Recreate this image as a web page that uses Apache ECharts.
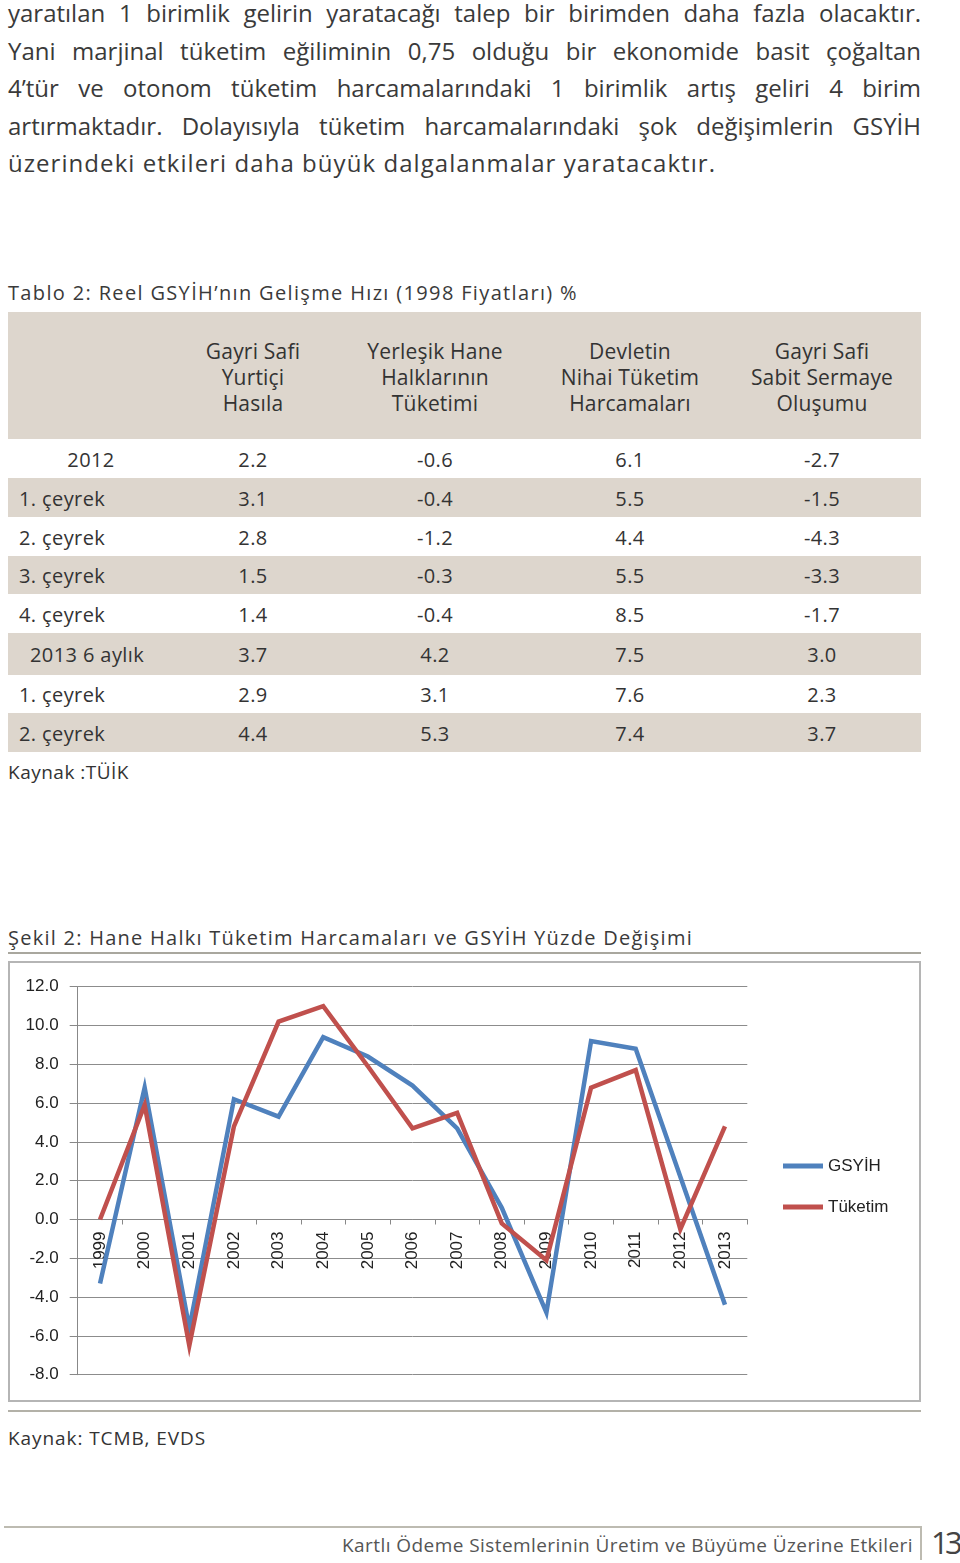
<!DOCTYPE html>
<html><head><meta charset="utf-8">
<script src="https://cdn.jsdelivr.net/npm/echarts@6/dist/echarts.min.js"></script>
<style>
html,body{margin:0;padding:0;background:#fff;}
body{width:960px;height:1563px;position:relative;overflow:hidden;font-family:"Open Sans",sans-serif;color:#333;}
.abs{position:absolute;white-space:nowrap;}
.p{font-size:24px;line-height:30px;color:#3a3a3a;}
.t{font-size:20px;line-height:26px;color:#333;}
.cell{position:absolute;font-size:20px;line-height:26px;color:#333;letter-spacing:0.4px;white-space:nowrap;}
.hline{position:absolute;height:2px;background:#b2b0a8;}
</style></head>
<body>
<div id="page"></div>
<div id="chartbox" style="position:absolute;left:8px;top:961px;width:913px;height:441px;border:2px solid #b5b5b5;box-sizing:border-box;">
  <div id="chart" style="position:absolute;left:0;top:0;width:909px;height:437px;"></div>
</div>
<script>
// ---------- data ----------
const paragraphLines = [
  "yaratılan 1 birimlik gelirin yaratacağı talep bir birimden daha fazla olacaktır.",
  "Yani marjinal tüketim eğiliminin 0,75 olduğu bir ekonomide basit çoğaltan",
  "4’tür ve otonom tüketim harcamalarındaki 1 birimlik artış geliri 4 birim",
  "artırmaktadır. Dolayısıyla tüketim harcamalarındaki şok değişimlerin GSYİH",
  "üzerindeki etkileri daha büyük dalgalanmalar yaratacaktır."
];
const tableTitle = "Tablo 2: Reel GSYİH’nın Gelişme Hızı (1998 Fiyatları) %";
const tableHeaders = [
  ["Gayri Safi", "Yurtiçi", "Hasıla"],
  ["Yerleşik Hane", "Halklarının", "Tüketimi"],
  ["Devletin", "Nihai Tüketim", "Harcamaları"],
  ["Gayri Safi", "Sabit Sermaye", "Oluşumu"]
];
const rowLabels = ["2012", "1. çeyrek", "2. çeyrek", "3. çeyrek", "4. çeyrek", "2013 6 aylık", "1. çeyrek", "2. çeyrek"];
const colGSYH     = ["2.2", "3.1", "2.8", "1.5", "1.4", "3.7", "2.9", "4.4"];
const colHane     = ["-0.6", "-0.4", "-1.2", "-0.3", "-0.4", "4.2", "3.1", "5.3"];
const colDevlet   = ["6.1", "5.5", "4.4", "5.5", "8.5", "7.5", "7.6", "7.4"];
const colSermaye  = ["-2.7", "-1.5", "-4.3", "-3.3", "-1.7", "3.0", "2.3", "3.7"];
const tableSource = "Kaynak :TÜİK";
const figureTitle = "Şekil 2: Hane Halkı Tüketim Harcamaları ve GSYİH Yüzde Değişimi";
const figureSource = "Kaynak: TCMB, EVDS";
const footerText = "Kartlı Ödeme Sistemlerinin Üretim ve Büyüme Üzerine Etkileri";
const pageNumber = "13";

const years = ["1999","2000","2001","2002","2003","2004","2005","2006","2007","2008","2009","2010","2011","2012","2013"];
const gsyih   = [-3.3, 6.8, -5.6, 6.2, 5.3, 9.4, 8.4, 6.9, 4.7, 0.6, -4.8, 9.2, 8.8, 2.2, -4.4];
const tuketim = [0.0, 5.9, -6.5, 4.8, 10.2, 11.0, 7.9, 4.7, 5.5, -0.2, -2.1, 6.8, 7.7, -0.5, 4.8];
const seriesNames = ["GSYİH", "Tüketim"];
const yTicks = { min: -8, max: 12, step: 2 };

// ---------- layout helpers ----------
const page = document.getElementById('page');
function addText(txt, cls, left, centerY, lh, extra) {
  const d = document.createElement('div');
  d.className = 'abs ' + (cls || '');
  d.textContent = txt;
  d.style.left = left + 'px';
  d.style.top = (centerY - lh / 2) + 'px';
  if (extra) Object.assign(d.style, extra);
  page.appendChild(d);
  return d;
}
function fit(el, target, justify) {
  el.style.display = 'inline-block';
  const w = el.getBoundingClientRect().width;
  const n = el.textContent.length;
  const spaces = (el.textContent.match(/ /g) || []).length;
  if (justify && w < target && spaces > 0) {
    el.style.wordSpacing = ((target - w) / spaces) + 'px';
  } else {
    el.style.letterSpacing = ((target - w) / n) + 'px';
  }
}
function hline(left, top, width, color, h) {
  const d = document.createElement('div');
  d.className = 'hline';
  d.style.left = left + 'px'; d.style.top = top + 'px'; d.style.width = width + 'px';
  if (color) d.style.background = color;
  if (h) d.style.height = h + 'px';
  page.appendChild(d);
  return d;
}
function rect(left, top, width, height, color) {
  const d = document.createElement('div');
  d.style.cssText = `position:absolute;left:${left}px;top:${top}px;width:${width}px;height:${height}px;background:${color};`;
  page.appendChild(d);
}

// paragraph
const pCenters = [13, 51, 88, 126, 163];
const pTargets = [913, 913, 913, 913, 708];
paragraphLines.forEach((t, i) => {
  const el = addText(t, 'p', 8, pCenters[i], 30);
  fit(el, pTargets[i], i < 4);
});

// table
fit(addText(tableTitle, 't', 8, 293, 26, {color:'#3a3a3a'}), 570, false);
const shade = '#ddd6cd';
rect(8, 312, 913, 127, shade);
const rowTops = [439, 478, 517, 556, 594, 633, 675, 713];
const rowBottoms = [478, 517, 556, 594, 633, 675, 713, 752];
rowTops.forEach((t, i) => { if (i % 2 === 1) rect(8, t, 913, rowBottoms[i] - t, shade); });
const colCenters = [253, 435, 630, 822];
const hdrLines = [351, 377, 403];
tableHeaders.forEach((lines, c) => {
  lines.forEach((ln, k) => {
    const d = document.createElement('div');
    d.className = 'cell';
    d.textContent = ln;
    d.style.left = (colCenters[c] - 110) + 'px';
    d.style.width = '220px';
    d.style.textAlign = 'center';
    d.style.top = (hdrLines[k] - 13) + 'px';
    d.style.fontSize = '21px';
    d.style.letterSpacing = '0.2px';
    page.appendChild(d);
  });
});
const cols = [colGSYH, colHane, colDevlet, colSermaye];
rowLabels.forEach((lab, r) => {
  const cy = (rowTops[r] + rowBottoms[r]) / 2 + 1;
  const d = document.createElement('div');
  d.className = 'cell';
  d.textContent = lab;
  d.style.top = (cy - 13) + 'px';
  if (r === 0) { d.style.left = '41px'; d.style.width = '100px'; d.style.textAlign = 'center'; }
  else if (r === 5) { d.style.left = '30px'; }
  else { d.style.left = '19px'; }
  page.appendChild(d);
  cols.forEach((col, c) => {
    const e = document.createElement('div');
    e.className = 'cell';
    e.textContent = col[r];
    e.style.left = (colCenters[c] - 60) + 'px';
    e.style.width = '120px';
    e.style.textAlign = 'center';
    e.style.top = (cy - 13) + 'px';
    page.appendChild(e);
  });
});
fit(addText(tableSource, 't', 8, 772, 26, {fontSize:'19px'}), 121, false);

// figure title and lines
fit(addText(figureTitle, 't', 8, 938, 26, {color:'#3a3a3a'}), 685, false);
hline(8, 952, 913, '#a9a79e', 2);
hline(8, 1410, 913, '#b3b1a8', 2);
fit(addText(figureSource, 't', 8, 1438, 26, {fontSize:'19px'}), 198, false);

// footer
hline(4, 1526, 918, '#bdbbb1', 2);
const vl = document.createElement('div');
vl.style.cssText = 'position:absolute;left:920px;top:1526px;width:2px;height:34px;background:#bdbbb1;';
page.appendChild(vl);
const ft = addText(footerText, 't', 342, 1545, 26, {fontSize:'19px', color:'#555'});
fit(ft, 571, false);
const pn = addText(pageNumber, '', 931, 1542, 36, {fontSize:'31px', lineHeight:'36px', color:'#444'});
fit(pn, 28, false);

// ---------- chart ----------
const chart = echarts.init(document.getElementById('chart'), null, {renderer: 'canvas'});
const axisFont = '"Liberation Sans", Arial, sans-serif';
const gridH = 388;
const zeroOffset = -gridH * (0 - yTicks.min) / (yTicks.max - yTicks.min); // shift bottom x-axis up to the zero line
chart.setOption({
  animation: false,
  grid: { left: 67.7, top: 23.7, width: 669.6, height: gridH, containLabel: false, outerBoundsMode: 'none' },
  legend: {
    orient: 'vertical', left: 768, top: 188, itemWidth: 40, itemHeight: 5, itemGap: 21,
    icon: 'rect',
    textStyle: { fontFamily: axisFont, fontSize: 17, color: '#222', lineHeight: 20 },
    data: seriesNames
  },
  xAxis: {
    type: 'category', data: years, boundaryGap: true, position: 'bottom', offset: zeroOffset,
    axisLine: { onZero: false, lineStyle: { color: '#888', width: 1 } },
    axisTick: { show: true, length: 5, alignWithLabel: false, lineStyle: { color: '#888' } },
    axisLabel: { rotate: 90, margin: 12, interval: 0, fontFamily: axisFont, fontSize: 17, color: '#222' },
    splitLine: { show: false }
  },
  yAxis: {
    type: 'value', min: yTicks.min, max: yTicks.max, interval: yTicks.step,
    axisLine: { show: true, lineStyle: { color: '#888', width: 1 } },
    axisTick: { show: true, length: 8, lineStyle: { color: '#888' } },
    axisLabel: { margin: 19, fontFamily: axisFont, fontSize: 17, color: '#222', formatter: v => v.toFixed(1) },
    splitLine: { show: true, lineStyle: { color: '#8c8c8c', width: 1 } }
  },
  series: [
    { name: seriesNames[0], type: 'line', data: gsyih, showSymbol: false, symbol: 'none',
      lineStyle: { color: '#4f81bd', width: 4.5, join: 'miter' }, itemStyle: { color: '#4f81bd' } },
    { name: seriesNames[1], type: 'line', data: tuketim, showSymbol: false, symbol: 'none',
      lineStyle: { color: '#c0504d', width: 4.5, join: 'miter' }, itemStyle: { color: '#c0504d' } }
  ]
});
</script>
</body></html>
